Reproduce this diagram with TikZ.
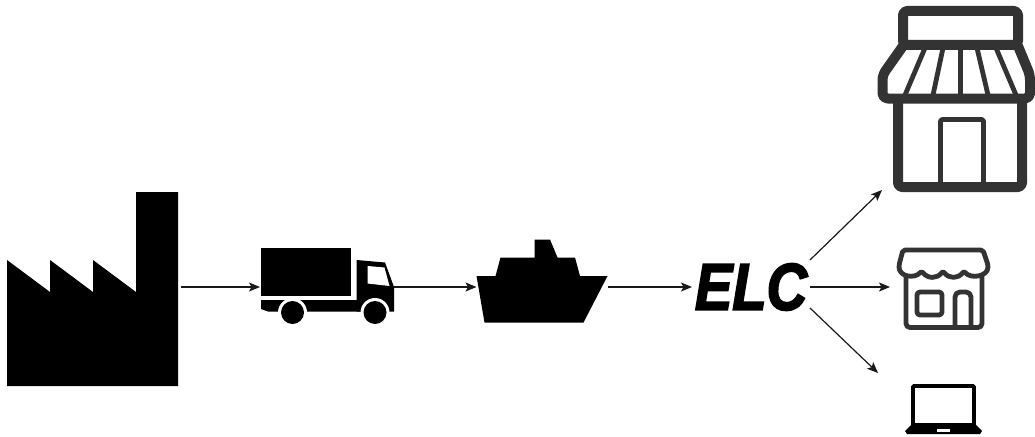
\documentclass[tikz,border=0pt]{standalone}
\usepackage{fontspec}
\usepackage{graphicx}
\usetikzlibrary{arrows.meta}
\newfontfamily\elcfont[FakeBold=3]{Liberation Sans}
\definecolor{iconc}{HTML}{333333}
\begin{document}
\begin{tikzpicture}[
  x=1pt, y=-1pt,
  slot/.style={inner sep=0pt, outer sep=0pt, minimum height=30pt},
  arr/.style={-{Stealth[length=11pt, width=9pt, inset=2.5pt]}, line width=1.2pt, color=black!90},
  solid icon/.style={fill=black, draw=none},
  thick icon/.style={draw=iconc, line width=10pt, line join=round},
  thin icon/.style={draw=iconc, line width=4.8pt, line join=round}
]
\useasboundingbox (0,0) rectangle (1035,436);
% slots the connectors run between
\node[slot, minimum width=171pt] (factory) at (92.5,287) {};
\node[slot, minimum width=134pt] (truck) at (327,287) {};
\node[slot, minimum width=131pt] (ship) at (542,287) {};
\node[slot, minimum width=118pt, font=\elcfont\bfseries\itshape] (elc) at (751,287)
  {\raisebox{-1pt}{\scalebox{0.85}[1]{\fontsize{66}{66}\selectfont ELC}}};
\node[slot, minimum width=107pt] (shop) at (943.5,287) {};
\coordinate (elcup) at (810,260);
\coordinate (elcdown) at (810,308);
\coordinate (storein) at (882,190);
\coordinate (laptopin) at (878,373);
% factory
\fill[solid icon] (7,260) -- (50,292) -- (50,260) -- (93,292) -- (93,260) -- (136,292)
  -- (136,192) -- (178,192) -- (178,386) -- (7,386) -- cycle;
% truck
\fill[solid icon] (261,247.5) rectangle (350.5,296);
\fill[solid icon] (356.5,260) -- (385,262.5) -- (394,287) -- (394,311.5) -- (356.5,311.5) -- cycle;
\fill[solid icon] (261,300) -- (361,300) -- (361,311.5) -- (268,311.5) -- (261,309) -- cycle;
\fill[white] (367.5,266) -- (384.5,267.5) -- (389.5,286) -- (367.5,283.5) -- cycle;
\foreach \wx in {292.5,375} {
  \fill[white] (\wx,312.5) circle (14.5pt);
  \fill[solid icon] (\wx,312.5) circle (11.5pt);
}
% ship
\fill[solid icon] (476.5,276) -- (495.5,276) -- (500.5,257.5) -- (534.5,257.5) -- (534.5,239.5)
  -- (550,239.5) -- (557.5,257.5) -- (575,257.5) -- (580,276) -- (607.5,276)
  -- (583.5,322.5) -- (484.5,322.5) -- cycle;
% large store
\draw[thick icon, rounded corners=4pt] (903,11) rectangle (1018,45);
\draw[thick icon, rounded corners=5pt] (903,46) -- (882.5,75) -- (882.5,98.5) -- (1030,98.5) -- (1030,75) -- (1018,46);
\draw[thick icon, rounded corners=4pt] (898,100) -- (898,187) -- (1022,187) -- (1022,100);
\draw[thin icon, rounded corners=2pt] (940.5,184) -- (940.5,119.5) -- (983.5,119.5) -- (983.5,184);
\draw[thin icon] (925,48) -- (905,95) (943,48) -- (933,95) (960.5,48) -- (960.5,95)
  (977,48) -- (988,95) (996,48) -- (1016,95);
% small store
\draw[thin icon, rounded corners=2pt] (903,250) -- (983,250) -- (988,265)
  .. controls (988,277) and (970,279) .. (964,271)
  .. controls (958,279) and (949,279) .. (943,271)
  .. controls (937,279) and (928,279) .. (921.5,271)
  .. controls (915,279) and (899,277) .. (899,265) -- cycle;
\draw[thin icon, rounded corners=4pt] (906,274) -- (906,327.5) -- (982,327.5) -- (982,274);
\draw[thin icon, rounded corners=3pt] (917,292) rectangle (942,315);
\draw[thin icon, rounded corners=5pt] (955,327) -- (955,292) -- (971,292) -- (971,327);
% laptop
\draw[black, line width=3.6pt, rounded corners=1pt] (913,386) rectangle (974,425);
\fill[solid icon] (911,425) -- (976,425) -- (982,431) -- (980,434) -- (907,434) -- (905,431) -- cycle;
\fill[white] (937,428.5) rectangle (950,431.5);
% connectors
\draw[arr, shorten <=3pt] (factory.east) -- (truck.west);
\draw[arr] (truck.east) -- (ship.west);
\draw[arr] (ship.east) -- (elc.west);
\draw[arr] (elc.east) -- (shop.west);
\draw[arr] (elcup) -- (storein);
\draw[arr] (elcdown) -- (laptopin);
\end{tikzpicture}
\end{document}
